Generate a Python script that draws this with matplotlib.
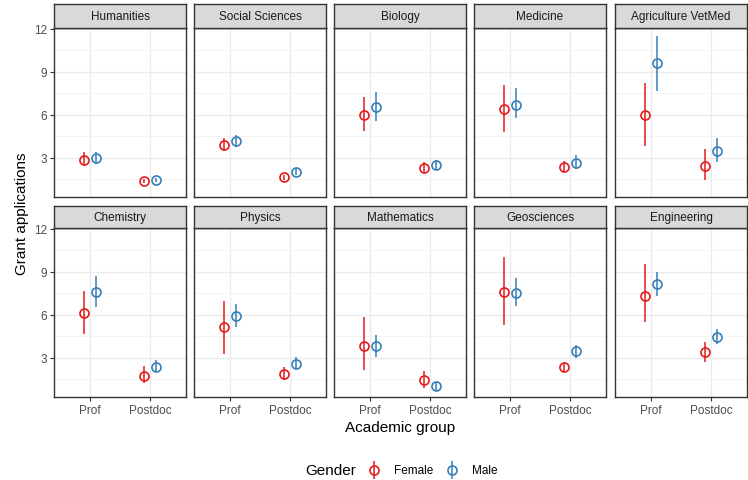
import matplotlib
matplotlib.use('Agg')
import matplotlib.pyplot as plt

plt.rcParams['font.family'] = ['Liberation Sans', 'DejaVu Sans']

fields = ['Humanities', 'Social Sciences', 'Biology', 'Medicine', 'Agriculture VetMed',
          'Chemistry', 'Physics', 'Mathematics', 'Geosciences', 'Engineering']
groups = ['Prof', 'Postdoc']
genders = ['Female', 'Male']

# [Prof, Postdoc] per field
female_mean = [[2.86, 1.40], [3.91, 1.63], [6.00, 2.26], [6.38, 2.37], [6.00, 2.44],
               [6.10, 1.72], [5.12, 1.88], [3.82, 1.47], [7.58, 2.33], [7.31, 3.38]]
female_lo = [[2.44, 1.26], [3.49, 1.45], [4.88, 1.93], [4.77, 1.98], [3.79, 1.44],
             [4.65, 1.21], [3.26, 1.47], [2.14, 0.91], [5.30, 1.98], [5.47, 2.72]]
female_hi = [[3.38, 1.55], [4.35, 1.80], [7.21, 2.68], [8.07, 2.79], [8.21, 3.61],
             [7.68, 2.40], [6.98, 2.37], [5.86, 2.09], [10.03, 2.72], [9.54, 4.12]]
male_mean = [[2.98, 1.44], [4.19, 2.02], [6.56, 2.51], [6.70, 2.65], [9.61, 3.45],
             [7.61, 2.35], [5.91, 2.56], [3.82, 1.03], [7.49, 3.45], [8.12, 4.44]]
male_lo = [[2.56, 1.28], [3.77, 1.80], [5.58, 2.16], [5.75, 2.23], [7.65, 2.68],
           [6.52, 1.98], [5.16, 2.21], [3.07, 0.78], [6.59, 3.00], [7.28, 3.93]]
male_hi = [[3.42, 1.60], [4.58, 2.25], [7.56, 2.84], [7.84, 3.19], [11.49, 4.37],
           [8.72, 2.86], [6.75, 3.05], [4.58, 1.33], [8.58, 3.91], [8.96, 5.00]]

colors = {'Female': '#E41A1C', 'Male': '#377EB8'}
series = {'Female': (female_mean, female_lo, female_hi),
          'Male': (male_mean, male_lo, male_hi)}
offsets = {'Female': -0.1, 'Male': 0.1}

W, H = 748, 481
fig = plt.figure(figsize=(W / 100, H / 100), dpi=100)


def rect(x0, y0, x1, y1):
    return [x0 / W, 1 - y1 / H, (x1 - x0) / W, (y1 - y0) / H]


col_x = [54, 194, 334, 474, 615]
pw = 132
rows = [(5, 29, 198), (207, 229, 398)]  # strip top, plot top, plot bottom
gray20 = '#333333'
tick_col = '#4D4D4D'

for i, field in enumerate(fields):
    r, c = divmod(i, 5)
    st, pt, pb = rows[r]
    x0 = col_x[c]
    ax = fig.add_axes(rect(x0, pt, x0 + pw, pb))
    ax.set_xlim(0.4, 2.6)
    ax.set_ylim(0.26, 12.05)
    ax.set_yticks([3, 6, 9, 12])
    ax.set_yticks([1.5, 4.5, 7.5, 10.5], minor=True)
    ax.set_xticks([1, 2])
    ax.set_xticklabels(groups)
    ax.grid(True, which='major', color='#EBEBEB', linewidth=1.0)
    ax.grid(True, which='minor', axis='y', color='#F2F2F2', linewidth=0.6)
    ax.set_axisbelow(True)
    for s in ax.spines.values():
        s.set_color(gray20)
        s.set_linewidth(1.0)
    ax.tick_params(which='minor', length=0)
    ax.tick_params(which='major', length=3, width=0.8, color=gray20,
                   labelsize=8.5, labelcolor=tick_col, pad=2)
    if c != 0:
        ax.tick_params(axis='y', length=0, labelleft=False)
    if r != 1:
        ax.tick_params(axis='x', length=0, labelbottom=False)
    for g in genders:
        m, lo, hi = series[g]
        for j in range(2):
            xp = j + 1 + offsets[g]
            ax.vlines(xp, lo[i][j], hi[i][j], color=colors[g], linewidth=1.1, zorder=3)
            ax.plot([xp], [m[i][j]], marker='o', ms=6.5, mfc='none', mec=colors[g],
                    mew=1.2, linestyle='none', zorder=4)
    # strip
    sax = fig.add_axes(rect(x0, st, x0 + pw, pt))
    sax.set_facecolor('#D9D9D9')
    sax.set_xticks([])
    sax.set_yticks([])
    for s in sax.spines.values():
        s.set_color(gray20)
        s.set_linewidth(1.0)
    sax.text(0.5, 0.5, field, ha='center', va='center', fontsize=8.5,
             color='#1A1A1A', transform=sax.transAxes)

fig.text(400 / W, 1 - 428 / H, 'Academic group', ha='center', va='center', fontsize=11)
fig.text(22 / W, 1 - 214 / H, 'Grant applications', ha='center', va='center',
         fontsize=11, rotation=90)

# legend
lax = fig.add_axes([0, 0, 1, 1])
lax.set_xlim(0, W)
lax.set_ylim(H, 0)
lax.axis('off')
lax.text(305, 471, 'Gender', ha='left', va='center', fontsize=11)
for g, xm, xt in [('Female', 374, 394), ('Male', 452, 472)]:
    lax.vlines(xm, 462, 480, color=colors[g], linewidth=1.1)
    lax.plot([xm], [471], marker='o', ms=6.5, mfc='none', mec=colors[g], mew=1.2)
    lax.text(xt, 471, g, ha='left', va='center', fontsize=8.5)

fig.savefig('out.png', dpi=100)
